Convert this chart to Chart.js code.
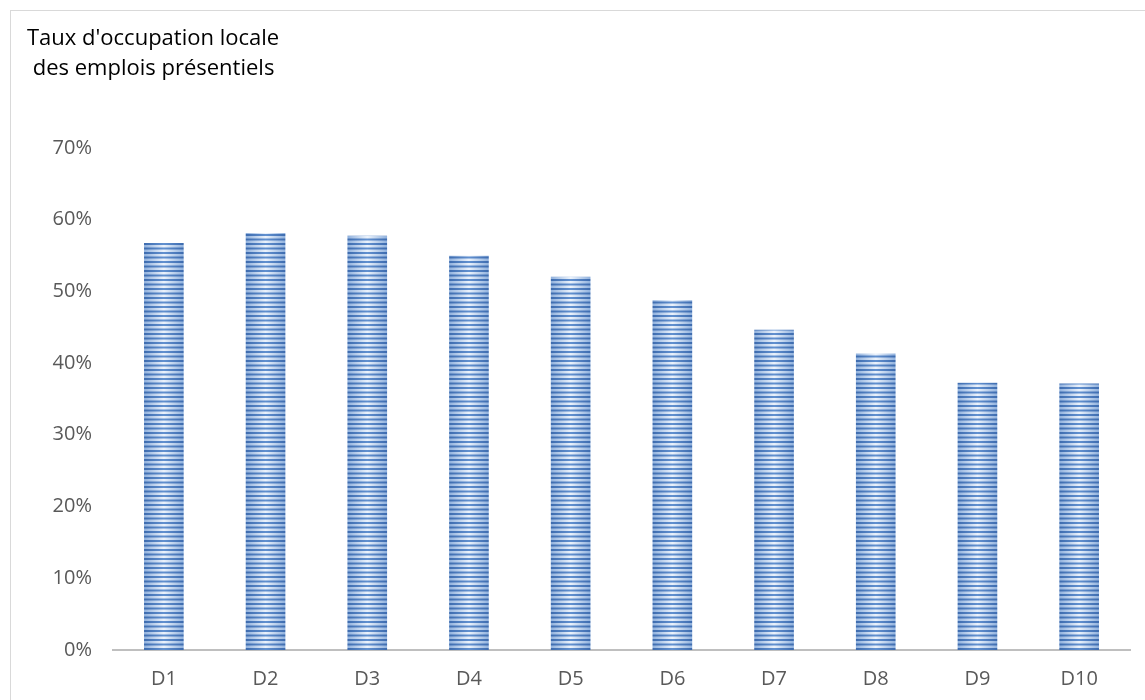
<!DOCTYPE html>
<html lang="fr">
<head>
<meta charset="utf-8">
<title>Taux d'occupation locale des emplois présentiels</title>
<script src="https://cdn.jsdelivr.net/npm/chart.js@4.4.1/dist/chart.umd.min.js"></script>
<style>
    html, body {
        margin: 0;
        padding: 0;
        background: #ffffff;
        overflow: hidden;
    }
    .frame {
        position: absolute;
        left: 10px;
        top: 10px;
        width: 1160px;
        height: 720px;
        border: 1px solid #d9d9d9;
        box-sizing: border-box;
    }
    .chart-wrap {
        position: absolute;
        left: 0;
        top: 0;
        width: 1145px;
        height: 700px;
    }
</style>
</head>
<body>
<div class="frame"></div>
<div class="chart-wrap">
    <canvas id="occupationChart"></canvas>
</div>

<script>
// Data
const categories = ["D1", "D2", "D3", "D4", "D5", "D6", "D7", "D8", "D9", "D10"];
const occupationRates = [56.7, 58.1, 57.7, 54.9, 52.0, 48.7, 44.6, 41.3, 37.2, 37.1];
const yTicks = [0, 10, 20, 30, 40, 50, 60, 70];
const titleLines = ["Taux d'occupation locale", " des emplois présentiels"];

const BAR_WIDTH = 39;
const FONT = "'Open Sans', 'Liberation Sans', sans-serif";

// Striped tile with a light centre, like the Office "horizontal lines" fill
function buildStripeTile() {
    const tile = document.createElement("canvas");
    tile.width = BAR_WIDTH;
    tile.height = 9;
    const t = tile.getContext("2d");

    const light = t.createLinearGradient(0, 0, BAR_WIDTH, 0);
    light.addColorStop(0, "rgb(145, 178, 222)");
    light.addColorStop(0.5, "rgb(236, 243, 252)");
    light.addColorStop(1, "rgb(145, 178, 222)");
    t.fillStyle = light;
    t.fillRect(0, 0, BAR_WIDTH, 9);

    const dark = t.createLinearGradient(0, 0, BAR_WIDTH, 0);
    dark.addColorStop(0, "rgb(62, 108, 175)");
    dark.addColorStop(0.5, "rgb(98, 145, 208)");
    dark.addColorStop(1, "rgb(62, 108, 175)");
    t.fillStyle = dark;
    t.fillRect(0, 0, BAR_WIDTH, 2);
    t.fillRect(0, 4.5, BAR_WIDTH, 2);
    return tile;
}

const stripeTile = buildStripeTile();

function barFill(context) {
    const chart = context.chart;
    const xScale = chart.scales && chart.scales.x;
    if (context.type !== "data" || !xScale) {
        return "rgb(100, 145, 205)";
    }
    const pattern = chart.ctx.createPattern(stripeTile, "repeat");
    const left = xScale.getPixelForValue(context.dataIndex) - BAR_WIDTH / 2;
    pattern.setTransform(new DOMMatrix([1, 0, 0, 1, left, 0]));
    return pattern;
}

document.addEventListener("DOMContentLoaded", () => {
    const ctx = document.getElementById("occupationChart").getContext("2d");

    new Chart(ctx, {
        type: "bar",
        data: {
            labels: categories,
            datasets: [{
                label: "Taux d'occupation",
                data: occupationRates,
                backgroundColor: barFill,
                borderWidth: 0,
                barThickness: BAR_WIDTH
            }]
        },
        options: {
            responsive: true,
            maintainAspectRatio: false,
            animation: false,
            layout: {
                padding: { top: 0, left: 27, right: 15, bottom: 10 }
            },
            scales: {
                x: {
                    afterFit: scale => { scale.height = 40; },
                    grid: { display: false, drawTicks: false },
                    border: { display: true, color: "#bfbfbf", width: 2 },
                    ticks: {
                        color: "#595959",
                        padding: 17,
                        font: { family: FONT, size: 20 }
                    }
                },
                y: {
                    min: yTicks[0],
                    max: yTicks[yTicks.length - 1],
                    afterFit: scale => { scale.width = 86; },
                    afterBuildTicks: scale => {
                        scale.ticks = yTicks.map(v => ({ value: v }));
                    },
                    grid: { display: false, drawTicks: false },
                    border: { display: false },
                    ticks: {
                        color: "#595959",
                        padding: 21,
                        font: { family: FONT, size: 20 },
                        callback: value => Math.round(value) + "%"
                    }
                }
            },
            plugins: {
                legend: { display: false },
                tooltip: { enabled: false },
                title: {
                    display: true,
                    text: titleLines,
                    align: "start",
                    color: "#000000",
                    font: { family: FONT, size: 22, weight: "normal", lineHeight: 1.36 },
                    padding: { top: 24, bottom: 64 }
                }
            }
        }
    });
});
</script>
</body>
</html>
